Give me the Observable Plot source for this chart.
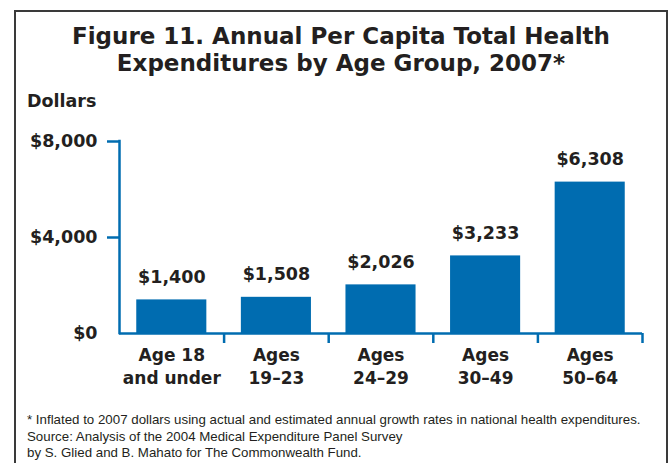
<!DOCTYPE html>
<html><head><meta charset="utf-8">
<script src="https://cdn.jsdelivr.net/npm/d3@7"></script>
<script src="https://cdn.jsdelivr.net/npm/@observablehq/plot@0.6"></script>
<style>
html,body{margin:0;padding:0;background:#fff;}
#wrap{position:relative;width:670px;height:463px;overflow:hidden;background:#fff;font-family:'DejaVu Sans',sans-serif;color:#231f20;}
#border{position:absolute;left:14px;top:10px;width:650px;height:480px;border:2px solid #3a3a3a;}
#title{position:absolute;left:15px;top:23px;width:652px;text-align:center;font-weight:bold;font-size:23px;line-height:27px;}
#ylabel{position:absolute;left:27px;top:91px;font-weight:bold;font-size:17.5px;line-height:20px;}
#chart{position:absolute;left:0;top:110px;}
#note{position:absolute;left:27px;top:412px;font-family:'Liberation Sans',Arial,sans-serif;font-size:13.3px;line-height:16.5px;}
</style></head>
<body>
<div id="wrap">
 <div id="border"></div>
 <div id="title">Figure 11. Annual Per Capita Total Health<br>Expenditures by Age Group, 2007*</div>
 <div id="ylabel">Dollars</div>
 <div id="chart"></div>
 <div id="note">* Inflated to 2007 dollars using actual and estimated annual growth rates in national health expenditures.<br>Source: Analysis of the 2004 Medical Expenditure Panel Survey<br>by S. Glied and B. Mahato for The Commonwealth Fund.</div>
</div>
<script>
const categories = ["Age 18\nand under", "Ages\n19–23", "Ages\n24–29", "Ages\n30–49", "Ages\n50–64"];
const values = [1400, 1508, 2026, 3233, 6308];
const yTicks = [0, 4000, 8000];

const data = categories.map((c, i) => ({category: c, index: i, value: values[i]}));
const fmt = d => "$" + d3.format(",")(d);
const blue = "#006cb0";
const ink = "#231f20";
const pad = 0.165;

const plot = Plot.plot({
  width: 670, height: 290,
  marginTop: 31, marginBottom: 67, marginLeft: 119, marginRight: 28,
  x: {type: "linear", domain: [0, categories.length], axis: null},
  y: {domain: [0, 8000], axis: null},
  style: {fontFamily: "'DejaVu Sans', sans-serif", color: ink, background: "transparent"},
  marks: [
    Plot.rectY(data, {x1: d => d.index + pad, x2: d => d.index + 1 - pad, y: "value", fill: blue}),
    Plot.ruleX([0], {stroke: blue, strokeWidth: 2.5, strokeLinecap: "square"}),
    Plot.ruleY([0], {stroke: blue, strokeWidth: 2.5}),
    Plot.axisY({ticks: yTicks.filter(d => d > 0), tickSize: 12, tickFormat: () => "", label: null, stroke: blue, strokeWidth: 2.5}),
    Plot.axisY({ticks: yTicks, tickSize: 0, tickPadding: 22, tickFormat: fmt, label: null, fontSize: 17.5, fontWeight: "bold", fill: ink}),
    Plot.axisX({ticks: d3.range(1, categories.length + 1), tickSize: 10, tickFormat: () => "", label: null, stroke: blue, strokeWidth: 2.5}),
    Plot.text(data, {x: d => d.index + 0.5, y: 0, text: "category", lineAnchor: "top", dy: 12, fontSize: 17, fontWeight: "bold", lineHeight: 1.32, fill: ink}),
    Plot.text(data, {x: d => d.index + 0.5, y: "value", text: d => fmt(d.value), lineAnchor: "bottom", dy: -17, fontSize: 17.5, fontWeight: "bold", fill: ink})
  ]
});
document.getElementById("chart").appendChild(plot);
</script>
</body></html>
